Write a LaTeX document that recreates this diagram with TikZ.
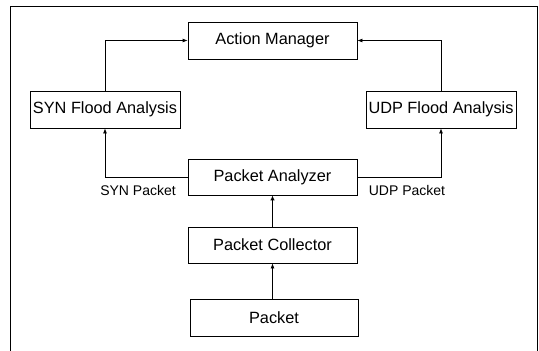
\documentclass[tikz,border=0pt]{standalone}
\usepackage{fontspec}
\setmainfont{Liberation Sans}
\usetikzlibrary{arrows.meta}
\begin{document}
\begin{tikzpicture}[x=1pt,y=-1pt,
  box/.style={draw, line width=0.8pt, rectangle, inner sep=0pt, minimum height=37pt,
    font=\fontsize{16.3}{18}\selectfont},
  conn/.style={line width=0.8pt, -{Latex[length=5pt,width=4pt]}},
  thick conn/.style={line width=1.8pt, -{Latex[length=5pt,width=4.5pt]}},
  lbl/.style={font=\fontsize{14}{16}\selectfont, inner sep=0pt}]
\useasboundingbox (0,0) rectangle (539,351);
\draw[line width=0.8pt] (10,351) -- (10,6) -- (537,6) -- (537,351);
\node[box, minimum width=169pt] (am) at (272.5,40.5) {Action Manager};
\node[box, minimum width=150pt] (syn) at (105,109.5) {SYN Flood Analysis};
\node[box, minimum width=150pt] (udp) at (441,109.5) {UDP Flood Analysis};
\node[box, minimum width=169pt, minimum height=36pt] (pa) at (272.5,177) {Packet Analyzer};
\node[box, minimum width=169pt, minimum height=36pt] (pc) at (272.5,245) {Packet Collector};
\node[box, minimum width=168pt] (pk) at (274,317.5) {Packet};
\node[lbl] (synl) at (138,190) {SYN Packet};
\node[lbl] (udpl) at (407,190) {UDP Packet};
\draw[conn] (pa.west) -| (syn.south);
\draw[conn] (syn.north) |- (am.west);
\draw[conn] (pa.east) -| (udp.south);
\draw[conn] (udp.north) |- (am.east);
\draw[thick conn] (pc.north) -- (pa.south);
\draw[conn] (pk.north -| pc.south) -- (pc.south);
\end{tikzpicture}
\end{document}
